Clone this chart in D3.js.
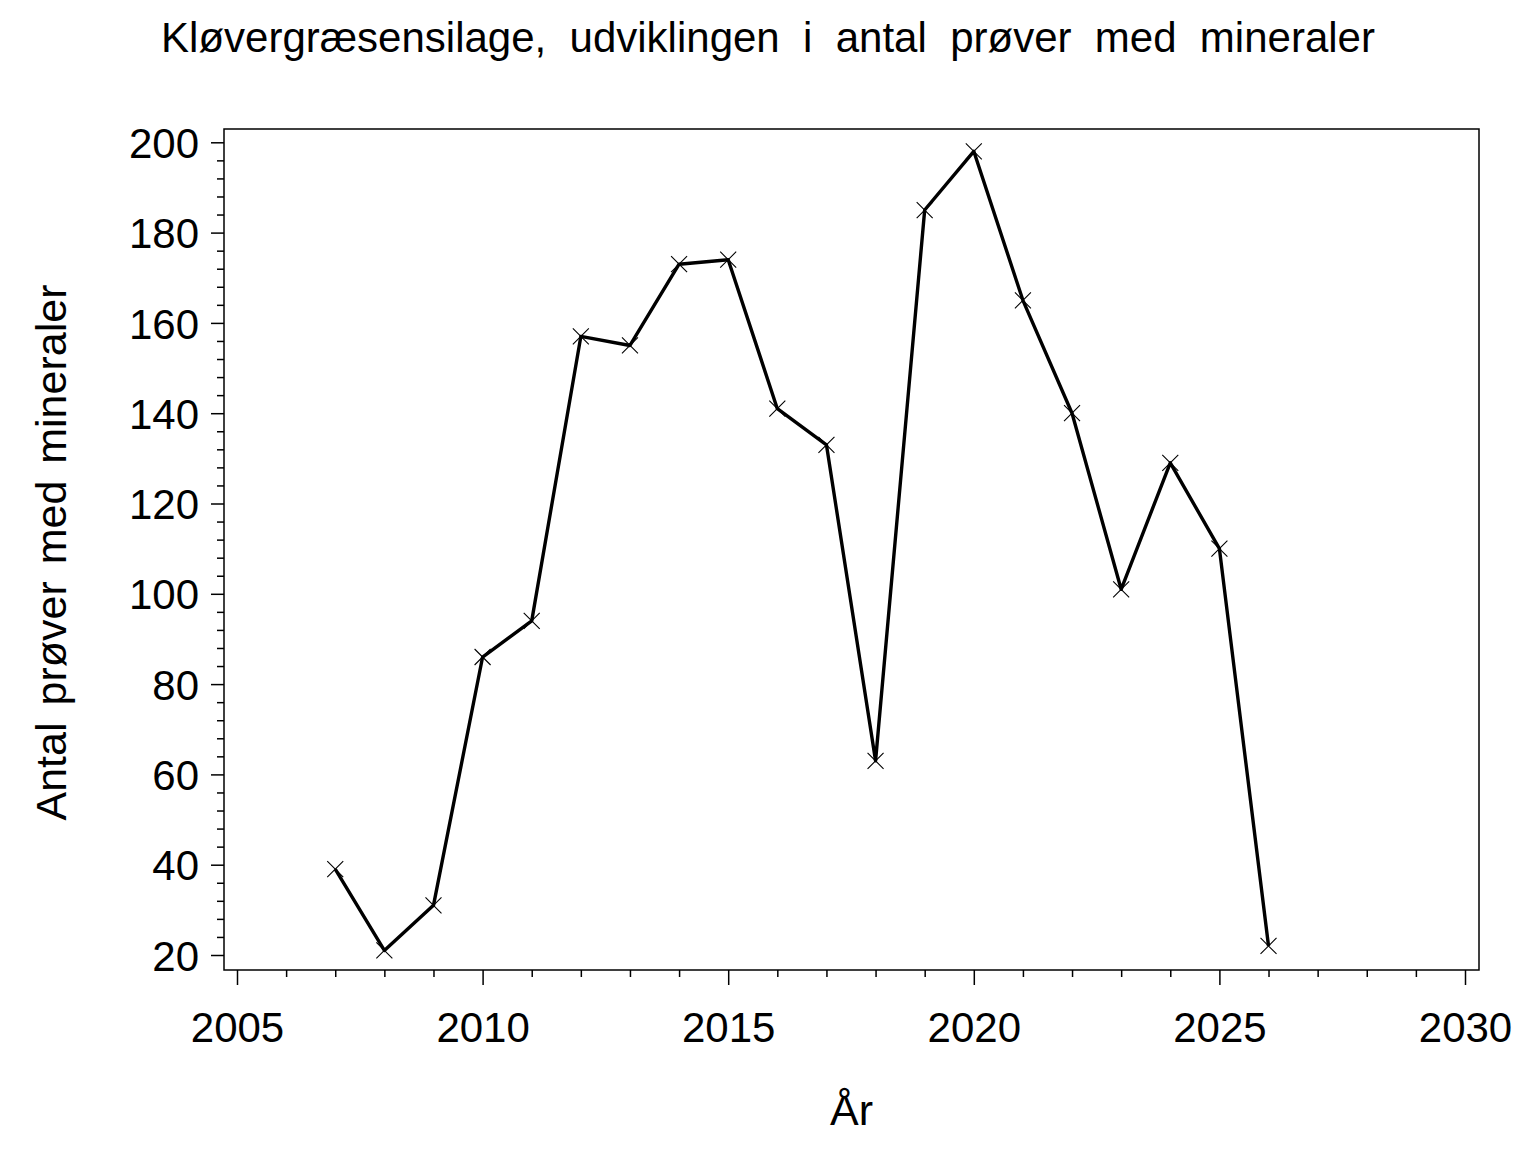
<!DOCTYPE html>
<html>
<head>
<meta charset="utf-8">
<script src="https://cdn.jsdelivr.net/npm/d3@7"></script>
<style>
  html, body { margin: 0; padding: 0; background: #fff; }
  svg text { font-family: "Liberation Sans", Arial, sans-serif; fill: #000; }
</style>
</head>
<body>
<div id="chart"></div>
<script>
// -----------------------------
// Data
// -----------------------------
const years = [2007, 2008, 2009, 2010, 2011, 2012, 2013, 2014, 2015, 2016,
               2017, 2018, 2019, 2020, 2021, 2022, 2023, 2024, 2025, 2026];
const counts = [39, 21, 31, 86, 94, 157, 155, 173, 174, 141,
                133, 63, 185, 198, 165, 140, 101, 129, 110, 22];

const xTicks = [2005, 2010, 2015, 2020, 2025, 2030];
const yTicks = [20, 40, 60, 80, 100, 120, 140, 160, 180, 200];

const titleText = "Kløvergræsensilage,  udviklingen  i  antal  prøver  med  mineraler";
const xLabel = "År";
const yLabel = "Antal prøver med mineraler";

// -----------------------------
// Layout
// -----------------------------
const width = 1536, height = 1152;
const frame = { left: 224, right: 1479, top: 129, bottom: 970 };

const svg = d3.select("#chart")
  .append("svg")
  .attr("width", width)
  .attr("height", height);

const x = d3.scaleLinear().domain([2005, 2030]).range([237, 1465]);
const y = d3.scaleLinear().domain([20, 200]).range([955, 142.3]);

// minor ticks: every year on x, every 4 on y
const xMinor = d3.range(2005, 2031, 1).filter(v => v % 5 !== 0);
const yMinor = d3.range(20, 201, 4).filter(v => v % 20 !== 0);

// -----------------------------
// Frame
// -----------------------------
svg.append("rect")
  .attr("x", frame.left)
  .attr("y", frame.top)
  .attr("width", frame.right - frame.left)
  .attr("height", frame.bottom - frame.top)
  .attr("fill", "none")
  .attr("stroke", "#000")
  .attr("stroke-width", 1.5);

// -----------------------------
// Axes
// -----------------------------
const yAxis = svg.append("g")
  .attr("transform", `translate(${frame.left},0)`)
  .call(d3.axisLeft(y).tickValues(yTicks).tickSize(13).tickPadding(12).tickFormat(d3.format("d")));
yAxis.select(".domain").remove();
yAxis.selectAll("line").attr("stroke-width", 1.5);
yAxis.selectAll("text").style("font-size", "42px").attr("dy", "0.36em");

const yAxisMinor = svg.append("g")
  .attr("transform", `translate(${frame.left},0)`)
  .call(d3.axisLeft(y).tickValues(yMinor).tickSize(7).tickFormat(""));
yAxisMinor.select(".domain").remove();
yAxisMinor.selectAll("line").attr("stroke-width", 1.5);

const xAxis = svg.append("g")
  .attr("transform", `translate(0,${frame.bottom})`)
  .call(d3.axisBottom(x).tickValues(xTicks).tickSize(15).tickPadding(27).tickFormat(d3.format("d")));
xAxis.select(".domain").remove();
xAxis.selectAll("line").attr("stroke-width", 1.5);
xAxis.selectAll("text").style("font-size", "42px");

const xAxisMinor = svg.append("g")
  .attr("transform", `translate(0,${frame.bottom})`)
  .call(d3.axisBottom(x).tickValues(xMinor).tickSize(7).tickFormat(""));
xAxisMinor.select(".domain").remove();
xAxisMinor.selectAll("line").attr("stroke-width", 1.5);

// -----------------------------
// Line + markers
// -----------------------------
const points = years.map((yr, i) => ({ year: yr, value: counts[i] }));

const line = d3.line()
  .x(d => x(d.year))
  .y(d => y(d.value));

svg.append("path")
  .datum(points)
  .attr("d", line)
  .attr("fill", "none")
  .attr("stroke", "#000")
  .attr("stroke-width", 3.4)
  .attr("stroke-linejoin", "round");

const m = 8;
svg.append("g")
  .selectAll("path")
  .data(points)
  .join("path")
  .attr("d", d => {
    const cx = x(d.year), cy = y(d.value);
    return `M${cx - m},${cy - m}L${cx + m},${cy + m}M${cx - m},${cy + m}L${cx + m},${cy - m}`;
  })
  .attr("stroke", "#000")
  .attr("stroke-width", 1.1)
  .attr("fill", "none");

// -----------------------------
// Titles
// -----------------------------
svg.append("text")
  .attr("x", width / 2)
  .attr("y", 52)
  .attr("text-anchor", "middle")
  .style("font-size", "42px")
  .style("white-space", "pre")
  .text(titleText);

svg.append("text")
  .attr("x", (frame.left + frame.right) / 2)
  .attr("y", 1125)
  .attr("text-anchor", "middle")
  .style("font-size", "43px")
  .text(xLabel);

svg.append("text")
  .attr("transform", `translate(66,${(frame.top + frame.bottom) / 2 + 3}) rotate(-90)`)
  .attr("text-anchor", "middle")
  .style("font-size", "43px")
  .style("word-spacing", "5px")
  .text(yLabel);
</script>
</body>
</html>
